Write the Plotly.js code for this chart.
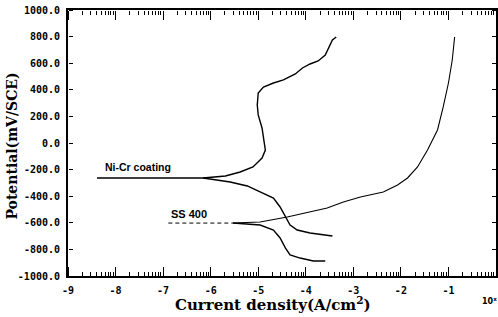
<!DOCTYPE html>
<html>
<head>
<meta charset="utf-8">
<script src="https://cdn.plot.ly/plotly-3.0.1.min.js"></script>
<style>html,body{margin:0;padding:0;background:#fff;}#chart{width:498px;height:317px;}</style>
</head>
<body>
<div id="chart"></div>
<script>
// log10 current density (A/cm2) vs potential (mV/SCE)
const niCrLogI = [-8.39, -7.6, -6.8, -6.16, -5.69, -5.38, -5.11, -4.92, -4.85, -4.89, -4.92, -5.0, -5.02, -5.0, -4.89, -4.68, -4.47, -4.22, -4.07, -3.91, -3.74, -3.59, -3.51, -3.44, -3.36];
const niCrPot  = [-263, -263, -263, -263, -248, -218, -180, -113, -53, 38, 113, 211, 286, 376, 421, 451, 474, 519, 564, 594, 617, 662, 722, 774, 797];
const niCrCathLogI = [-6.16, -5.59, -5.23, -4.96, -4.68, -4.54, -4.43, -4.33, -4.18, -3.91, -3.44];
const niCrCathPot  = [-263, -293, -323, -368, -414, -481, -556, -617, -654, -677, -699];

const ssDashLogI = [-6.89, -6.4, -5.9, -5.53];
const ssDashPot  = [-602, -602, -601, -602];
const ssAnodLogI = [-5.53, -4.96, -4.39, -3.91, -3.55, -3.21, -2.85, -2.37, -2.07, -1.86, -1.65, -1.44, -1.23, -1.11, -1.0, -0.92, -0.87];
const ssAnodPot  = [-602, -594, -556, -519, -489, -444, -406, -368, -316, -263, -180, -53, 98, 271, 451, 624, 797];
const ssCathLogI = [-5.53, -4.96, -4.68, -4.54, -4.43, -4.33, -4.12, -3.84, -3.59];
const ssCathPot  = [-602, -617, -654, -714, -789, -842, -865, -887, -887];

const xTickVals = [-9, -8, -7, -6, -5, -4, -3, -2, -1, 0];
const xTickText = ['-9', '-8', '-7', '-6', '-5', '-4', '-3', '-2', '-1', '0'];
const yTickVals = [-1000, -800, -600, -400, -200, 0, 200, 400, 600, 800, 1000];
const yTickText = ['-1000.0', '-800.0', '-600.0', '-400.0', '-200.0', '0.0', '200.0', '400.0', '600.0', '800.0', '1000.0'];

// minor log ticks inside each decade
const minorX = [];
for (let d = -9; d < 0; d++) {
  for (let k = 2; k <= 9; k++) minorX.push(d + Math.log10(k));
}

const lineStyle = {color: '#000', width: 1.4};
const traces = [
  {x: niCrLogI, y: niCrPot, mode: 'lines', line: lineStyle, hoverinfo: 'skip'},
  {x: niCrCathLogI, y: niCrCathPot, mode: 'lines', line: lineStyle, hoverinfo: 'skip'},
  {x: ssDashLogI, y: ssDashPot, mode: 'lines', line: {color: '#000', width: 1, dash: '4px,3px'}, hoverinfo: 'skip'},
  {x: ssAnodLogI, y: ssAnodPot, mode: 'lines', line: {color: '#000', width: 1.1}, hoverinfo: 'skip'},
  {x: ssCathLogI, y: ssCathPot, mode: 'lines', line: lineStyle, hoverinfo: 'skip'},
  // empty traces so the tick-only overlay axes are drawn
  {x: [], y: [], xaxis: 'x2', yaxis: 'y', hoverinfo: 'skip'},
  {x: [], y: [], xaxis: 'x3', yaxis: 'y', hoverinfo: 'skip'},
  {x: [], y: [], xaxis: 'x4', yaxis: 'y', hoverinfo: 'skip'},
  {x: [], y: [], xaxis: 'x5', yaxis: 'y', hoverinfo: 'skip'},
  {x: [], y: [], xaxis: 'x', yaxis: 'y2', hoverinfo: 'skip'},
  {x: [], y: [], xaxis: 'x', yaxis: 'y3', hoverinfo: 'skip'}
];

// overlay axes whose outside ticks point into the plot (inward ticks on all four sides)
function tickAxisX(side, pos, vals, len) {
  return {overlaying: 'x', anchor: 'free', position: pos, side: side, range: [-9, 0],
          tickmode: 'array', tickvals: vals, showticklabels: false,
          ticks: 'outside', ticklen: len, tickwidth: 1, tickcolor: '#000',
          showline: false, showgrid: false, zeroline: false, fixedrange: true};
}
function tickAxisY(side, pos, vals, len) {
  return {overlaying: 'y', anchor: 'free', position: pos, side: side, range: [-1000, 1000],
          tickmode: 'array', tickvals: vals, showticklabels: false,
          ticks: 'outside', ticklen: len, tickwidth: 1, tickcolor: '#000',
          showline: false, showgrid: false, zeroline: false, fixedrange: true};
}

const tickFont = {family: 'DejaVu Sans Mono', size: 10, color: '#000', weight: 'bold'};
const layout = {
  width: 498, height: 317,
  margin: {l: 68, r: 2, t: 10, b: 41},
  paper_bgcolor: '#fff', plot_bgcolor: '#fff',
  showlegend: false,
  xaxis: {
    range: [-9, 0], tickmode: 'array', tickvals: xTickVals, ticktext: xTickText,
    ticks: '', ticklabelstandoff: 4,
    showline: true, linewidth: 2, linecolor: '#000', mirror: true,
    showgrid: false, zeroline: false, tickfont: tickFont
  },
  xaxis2: tickAxisX('top', 0, xTickVals, 9),
  xaxis3: tickAxisX('top', 0, minorX, 4),
  xaxis4: tickAxisX('bottom', 1, xTickVals, 9),
  xaxis5: tickAxisX('bottom', 1, minorX, 4),
  yaxis: {
    range: [-1000, 1000], tickmode: 'array', tickvals: yTickVals, ticktext: yTickText,
    ticks: '', ticklabelstandoff: 4,
    showline: true, linewidth: 2, linecolor: '#000', mirror: true,
    showgrid: false, zeroline: false, tickfont: tickFont
  },
  yaxis2: tickAxisY('right', 0, yTickVals, 4),
  yaxis3: tickAxisY('left', 1, yTickVals, 4),
  annotations: [
    {text: 'Ni-Cr coating', x: -8.26, y: -180, xref: 'x', yref: 'y', xanchor: 'left', yanchor: 'middle', showarrow: false,
     font: {family: 'Liberation Sans', size: 10.5, color: '#000', weight: 'bold'}},
    {text: 'SS 400', x: -6.03, y: -534, xref: 'x', yref: 'y', xanchor: 'right', yanchor: 'middle', showarrow: false,
     font: {family: 'Liberation Sans', size: 11, color: '#000', weight: 'bold'}},
    {text: 'Current density(A/cm<sup>2</sup>)', x: 0.479, y: -0.105, xref: 'paper', yref: 'paper', xanchor: 'center', yanchor: 'middle', showarrow: false,
     font: {family: 'DejaVu Serif', size: 15, color: '#000', weight: 'bold'}},
    {text: 'Potential(mV/SCE)', x: -0.131, y: 0.49, xref: 'paper', yref: 'paper', xanchor: 'center', yanchor: 'middle', showarrow: false, textangle: -90,
     font: {family: 'DejaVu Serif', size: 14, color: '#000', weight: 'bold'}},
    {text: '10<sup>x</sup>', x: 0.985, y: -0.095, xref: 'paper', yref: 'paper', xanchor: 'center', yanchor: 'middle', showarrow: false,
     font: {family: 'DejaVu Sans', size: 8, color: '#000', weight: 'bold'}}
  ]
};

Plotly.newPlot('chart', traces, layout, {displayModeBar: false});
</script>
</body>
</html>
